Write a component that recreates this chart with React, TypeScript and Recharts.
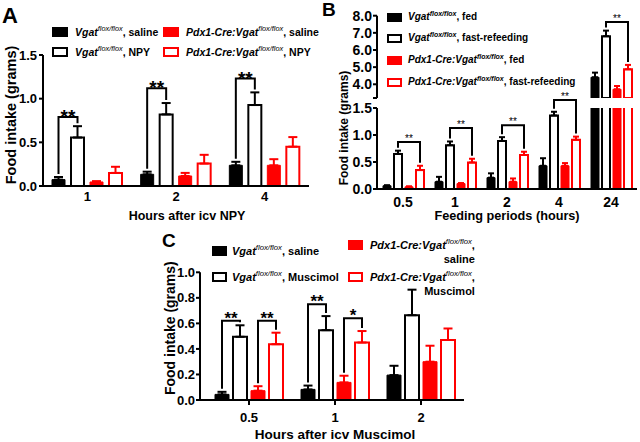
import React from 'react';
import { BarChart, Bar, XAxis, YAxis, ErrorBar, LabelList } from 'recharts';

const FONT = '"Liberation Sans", Arial, Helvetica, sans-serif';
const RED = '#ff0000';

// ---- A: food intake after icv NPY ----
const npyHours = ['1', '2', '4'];
const npyWtSaline = [0.073, 0.134, 0.237];
const npyWtSalineSem = [0.03, 0.03, 0.04];
const npyWtNpy = [0.555, 0.82, 0.927];
const npyWtNpySem = [0.13, 0.13, 0.145];
const npyKoSaline = [0.046, 0.115, 0.237];
const npyKoSalineSem = [0.01, 0.035, 0.07];
const npyKoNpy = [0.15, 0.257, 0.45];
const npyKoNpySem = [0.07, 0.1, 0.11];
const npyBracket = [0.79, 1.12, 1.23];
const npyStars = ['**', '**', '**'];
const npyTicks = [0, 0.5, 1, 1.5];

// ---- B: fed vs fast-refeeding (broken y axis) ----
const feedHours = ['0.5', '1', '2', '4', '24'];
const fedWt = [0.06, 0.135, 0.21, 0.43, 4.41];
const fedWtSem = [0.01, 0.09, 0.08, 0.14, 0.27];
const refedWt = [0.65, 0.81, 0.89, 1.36, 6.8];
const refedWtSem = [0.06, 0.07, 0.07, 0.07, 0.33];
const fedKo = [0.04, 0.1, 0.135, 0.43, 3.71];
const fedKoSem = [0.01, 0.01, 0.06, 0.05, 0.19];
const refedKo = [0.35, 0.49, 0.63, 0.91, 4.87];
const refedKoSem = [0.08, 0.07, 0.06, 0.06, 0.26];
const feedBracket = [0.87, 1.13, 1.18, 1.65, 7.63];
const feedStars = ['**', '**', '**', '**', '**'];
const feedTicksLow = [0, 0.5, 1, 1.5];
const feedTicksHigh = [3.2, 4, 5, 6, 7, 8];
const LOW_MAX = 1.5; // top of lower segment
const HIGH_MIN = 3.2; // bottom of upper segment
const HIGH_MAX = 8;

// ---- C: food intake after icv muscimol ----
const musHours = ['0.5', '1', '2'];
const musWtSaline = [0.044, 0.083, 0.195];
const musWtSalineSem = [0.02, 0.03, 0.073];
const musWtMus = [0.495, 0.547, 0.664];
const musWtMusSem = [0.09, 0.11, 0.2];
const musKoSaline = [0.073, 0.138, 0.3];
const musKoSalineSem = [0.035, 0.052, 0.125];
const musKoMus = [0.437, 0.45, 0.47];
const musKoMusSem = [0.09, 0.09, 0.09];
const musWtBracket = [0.62, 0.75, null];
const musWtStars = ['**', '**', null];
const musKoBracket = [0.62, 0.64, null];
const musKoStars = ['**', '*', null];
const musTicks = [0, 0.2, 0.4, 0.6, 0.8, 1.0];

// prism style: SEM drawn upwards only
const up = (e: number) => [0, e];

const npyRows = npyHours.map((hour, i) => ({
  hour,
  wtSal: npyWtSaline[i], wtSalErr: up(npyWtSalineSem[i]),
  wtNpy: npyWtNpy[i], wtNpyErr: up(npyWtNpySem[i]),
  koSal: npyKoSaline[i], koSalErr: up(npyKoSalineSem[i]),
  koNpy: npyKoNpy[i], koNpyErr: up(npyKoNpySem[i]),
}));

const feedLowRows = feedHours.map((hour, i) => ({
  hour,
  fedWt: fedWt[i], fedWtErr: up(fedWtSem[i]),
  refedWt: refedWt[i], refedWtErr: up(refedWtSem[i]),
  fedKo: fedKo[i], fedKoErr: up(fedKoSem[i]),
  refedKo: refedKo[i], refedKoErr: up(refedKoSem[i]),
}));

const hi = (v: number) => (v >= HIGH_MIN ? v : null);
const hiErr = (v: number, e: number) => (v >= HIGH_MIN ? up(e) : null);
const feedHighRows = feedHours.map((hour, i) => ({
  hour,
  fedWt: hi(fedWt[i]), fedWtErr: hiErr(fedWt[i], fedWtSem[i]),
  refedWt: hi(refedWt[i]), refedWtErr: hiErr(refedWt[i], refedWtSem[i]),
  fedKo: hi(fedKo[i]), fedKoErr: hiErr(fedKo[i], fedKoSem[i]),
  refedKo: hi(refedKo[i]), refedKoErr: hiErr(refedKo[i], refedKoSem[i]),
}));

const musRows = musHours.map((hour, i) => ({
  hour,
  wtSal: musWtSaline[i], wtSalErr: up(musWtSalineSem[i]),
  wtMus: musWtMus[i], wtMusErr: up(musWtMusSem[i]),
  koSal: musKoSaline[i], koSalErr: up(musKoSalineSem[i]),
  koMus: musKoMus[i], koMusErr: up(musKoMusSem[i]),
}));

const axisLine = { stroke: '#000', strokeWidth: 2 };
const tickFont = (size: number) => ({ fill: '#000', fontSize: size, fontWeight: 'bold', fontFamily: FONT });
const fmt = (v: number) => v.toFixed(1);
const fmtHigh = (v: number) => (v === HIGH_MIN ? '' : v.toFixed(1));
const axisTitle = { fill: '#000', fontWeight: 'bold', fontFamily: FONT };

type BracketOpts = {
  left: (number | null)[];
  leftErr: number[];
  right: (number | null)[];
  rightErr: number[];
  level: (number | null)[];
  stars: (string | null)[];
  span: number; // px between the two bar centres
  base: number;
  lo: number;
  hi: number;
  fontSize: number;
  starDy: number;
  starWeight?: string;
  starFill?: string;
};

// significance bracket, drawn from the left bar of the pair
const bracket = (o: BracketOpts) => (props: any) => {
  const vb = props.viewBox && typeof props.viewBox.x === 'number' ? props.viewBox : props;
  let i = props.index;
  if (typeof props.value === 'number' && o.left[i] !== props.value) {
    const j = o.left.indexOf(props.value);
    if (j >= 0) i = j;
  }
  const lev = o.level[i];
  const lv = o.left[i];
  const rv = o.right[i];
  if (lev == null || lv == null || rv == null) return null;
  if (lv < o.lo || rv < o.lo || lv > o.hi || rv > o.hi) return null;
  const { x, y, width, height } = vb;
  const k = height / (lv - o.base);
  const py = (v: number) => y + height - (v - o.base) * k;
  const lx = x + width / 2;
  const rx = lx + o.span;
  const by = py(lev);
  const ly = py(lv + o.leftErr[i]) - 3;
  const ry = py(rv + o.rightErr[i]) - 3;
  return (
    <g>
      <path d={`M${lx},${ly}V${by}H${rx}V${ry}`} fill="none" stroke="#000" strokeWidth={2} />
      <text
        x={(lx + rx) / 2}
        y={by + o.starDy}
        textAnchor="middle"
        fontSize={o.fontSize}
        fontWeight={o.starWeight ?? 'bold'}
        fontFamily={FONT}
        fill={o.starFill ?? '#000'}
      >
        {o.stars[i]}
      </text>
    </g>
  );
};

const Swatch = ({ color, open, w, h }: { color: string; open?: boolean; w: number; h: number }) => (
  <span
    style={{
      display: 'inline-block',
      width: w,
      height: h,
      boxSizing: 'border-box',
      background: open ? '#fff' : color,
      border: `2px solid ${color}`,
      flex: 'none',
    }}
  />
);

const Geno = ({ ko, size, supWeight }: { ko?: boolean; size: number; supWeight: string }) => (
  <>
    <span style={{ fontStyle: 'italic' }}>{ko ? 'Pdx1-Cre:Vgat' : 'Vgat'}</span>
    <span style={{ fontStyle: 'italic', fontWeight: supWeight as any, fontSize: size * 0.7, position: 'relative', top: -size * 0.42 }}>
      flox/flox
    </span>
  </>
);

type KeyProps = {
  left: number; top: number; color: string; open?: boolean; ko?: boolean;
  text: string; line2?: string; size: number; w: number; h: number; gap: number; supWeight?: string;
};

const Key = ({ left, top, color, open, ko, text, line2, size, w, h, gap, supWeight = 'normal' }: KeyProps) => (
  <div
    style={{
      position: 'absolute', left, top, display: 'flex', alignItems: line2 ? 'flex-start' : 'center',
      whiteSpace: 'nowrap', fontSize: size, fontWeight: 'bold', fontFamily: FONT, lineHeight: line2 ? '13px' : 1,
      color: '#000', height: line2 ? undefined : h,
    }}
  >
    <span style={{ marginTop: line2 ? 1.5 : 0, display: 'flex' }}>
      <Swatch color={color} open={open} w={w} h={h} />
    </span>
    <span style={{ marginLeft: gap, display: 'inline-block', textAlign: 'right' }}>
      <Geno ko={ko} size={size} supWeight={supWeight} />
      {text}
      {line2 ? (
        <>
          <br />
          {line2}
        </>
      ) : null}
    </span>
  </div>
);

const Letter = ({ left, top, size, children }: { left: number; top: number; size: number; children: string }) => (
  <div style={{ position: 'absolute', left, top, fontSize: size, fontWeight: 'bold', fontFamily: FONT, lineHeight: 1 }}>
    {children}
  </div>
);

const PanelA = () => (
  <div style={{ position: 'absolute', left: 0, top: 0, width: 320, height: 225, overflow: 'hidden' }}>
    <BarChart width={320} height={225} data={npyRows} margin={{ top: 55, right: 11, bottom: 0, left: 0 }} barSize={13} barGap={6}>
      <XAxis
        dataKey="hour"
        height={39}
        axisLine={axisLine}
        tickLine={false}
        tickSize={4}
        tickMargin={2}
        tick={tickFont(13)}
        label={{ value: 'Hours after icv NPY', position: 'insideBottom', offset: 5, dx: 11, fontSize: 12.5, ...axisTitle }}
      />
      <YAxis
        width={43}
        domain={[0, 1.5]}
        ticks={npyTicks}
        interval={0}
        tickFormatter={fmt}
        axisLine={axisLine}
        tickLine={axisLine}
        tickSize={4}
        tickMargin={2}
        tick={tickFont(13)}
        label={{ value: 'Food intake (grams)', angle: -90, position: 'center', dx: -10.5, dy: -5.5, fontSize: 14.5, ...axisTitle }}
      />
      <Bar dataKey="wtSal" fill="#000" stroke="#000" strokeWidth={1} isAnimationActive={false}>
        <ErrorBar dataKey="wtSalErr" width={4.5} stroke="#000" strokeWidth={2} isAnimationActive={false} />
        <LabelList
          dataKey="wtSal"
          content={bracket({
            left: npyWtSaline, leftErr: npyWtSalineSem, right: npyWtNpy, rightErr: npyWtNpySem,
            level: npyBracket, stars: npyStars, span: 19, base: 0, lo: 0, hi: 1.5, fontSize: 19, starDy: 6,
          })}
        />
      </Bar>
      <Bar dataKey="wtNpy" fill="#fff" stroke="#000" strokeWidth={2} isAnimationActive={false}>
        <ErrorBar dataKey="wtNpyErr" width={4.5} stroke="#000" strokeWidth={2} isAnimationActive={false} />
      </Bar>
      <Bar dataKey="koSal" fill={RED} stroke={RED} strokeWidth={1} isAnimationActive={false}>
        <ErrorBar dataKey="koSalErr" width={4.5} stroke={RED} strokeWidth={2} isAnimationActive={false} />
      </Bar>
      <Bar dataKey="koNpy" fill="#fff" stroke={RED} strokeWidth={2} isAnimationActive={false}>
        <ErrorBar dataKey="koNpyErr" width={4.5} stroke={RED} strokeWidth={2} isAnimationActive={false} />
      </Bar>
    </BarChart>
    <Letter left={2} top={5} size={22}>A</Letter>
    <Key left={52} top={27} color="#000" text=", saline" size={10.5} w={16} h={10} gap={7} />
    <Key left={52} top={47} color="#000" open text=", NPY" size={10.5} w={16} h={10} gap={7} />
    <Key left={163} top={27} color={RED} ko text=", saline" size={10.5} w={16} h={10} gap={7} />
    <Key left={163} top={47} color={RED} open ko text=", NPY" size={10.5} w={16} h={10} gap={7} />
  </div>
);

const feedBars = (lo: number, hiV: number, base: number) => [
  <Bar key="fw" dataKey="fedWt" fill="#000" stroke="#000" strokeWidth={1} isAnimationActive={false}>
    <ErrorBar dataKey="fedWtErr" width={3} stroke="#000" strokeWidth={2} isAnimationActive={false} />
  </Bar>,
  <Bar key="rw" dataKey="refedWt" fill="#fff" stroke="#000" strokeWidth={2} isAnimationActive={false}>
    <ErrorBar dataKey="refedWtErr" width={3} stroke="#000" strokeWidth={2} isAnimationActive={false} />
    <LabelList
      dataKey="refedWt"
      content={bracket({
        left: refedWt, leftErr: refedWtSem, right: refedKo, rightErr: refedKoSem,
        level: feedBracket, stars: feedStars, span: 22, base, lo, hi: hiV, fontSize: 10, starDy: 0,
        starWeight: 'normal', starFill: '#000',
      })}
    />
  </Bar>,
  <Bar key="fk" dataKey="fedKo" fill={RED} stroke={RED} strokeWidth={1} isAnimationActive={false}>
    <ErrorBar dataKey="fedKoErr" width={3} stroke={RED} strokeWidth={2} isAnimationActive={false} />
  </Bar>,
  <Bar key="rk" dataKey="refedKo" fill="#fff" stroke={RED} strokeWidth={2} isAnimationActive={false}>
    <ErrorBar dataKey="refedKoErr" width={3} stroke={RED} strokeWidth={2} isAnimationActive={false} />
  </Bar>,
];

const PanelB = () => (
  <div style={{ position: 'absolute', left: 320, top: 0, width: 320, height: 225, overflow: 'hidden' }}>
    {/* lower segment 0 - 1.5 */}
    <div style={{ position: 'absolute', left: 0, top: 0 }}>
      <BarChart width={320} height={225} data={feedLowRows} margin={{ top: 108, right: 3, bottom: 0, left: 0 }} barSize={8} barGap={3}>
        <XAxis
          dataKey="hour"
          height={36}
          axisLine={axisLine}
          tickLine={false}
          tick={tickFont(14)}
          label={{ value: 'Feeding periods (hours)', position: 'insideBottom', offset: 5, fontSize: 12.7, ...axisTitle }}
        />
        <YAxis
          width={57}
          domain={[0, LOW_MAX]}
          allowDataOverflow
          ticks={feedTicksLow}
          interval={0}
          tickFormatter={fmt}
          axisLine={axisLine}
          tickLine={axisLine}
          tickSize={4}
          tickMargin={1}
          tick={tickFont(14)}
          label={{ value: 'Food intake (grams)', angle: -90, position: 'center', dx: -5, dy: -20.5, fontSize: 12, ...axisTitle }}
        />
        {feedBars(0, LOW_MAX, 0)}
      </BarChart>
    </div>
    {/* upper segment 3.2 - 8 */}
    <div style={{ position: 'absolute', left: 0, top: 0 }}>
      <BarChart width={320} height={225} data={feedHighRows} margin={{ top: 15.7, right: 3, bottom: 127, left: 0 }} barSize={8} barGap={3}>
        <XAxis dataKey="hour" hide />
        <YAxis
          width={57}
          domain={[HIGH_MIN, HIGH_MAX]}
          allowDataOverflow
          ticks={feedTicksHigh}
          interval={0}
          tickFormatter={fmtHigh}
          axisLine={axisLine}
          tickLine={axisLine}
          tickSize={4}
          tickMargin={1}
          tick={tickFont(14)}
        />
        {feedBars(HIGH_MIN, HIGH_MAX, HIGH_MIN)}
      </BarChart>
    </div>
    <Letter left={2} top={0} size={19}>B</Letter>
    <Key left={67} top={12.5} color="#000" text=", fed" size={10} w={15} h={9} gap={6} supWeight="bold" />
    <Key left={67} top={33.5} color="#000" open text=", fast-refeeding" size={10} w={15} h={9} gap={6} supWeight="bold" />
    <Key left={67} top={55.5} color={RED} ko text=", fed" size={10} w={15} h={9} gap={6} supWeight="bold" />
    <Key left={67} top={77.5} color={RED} open ko text=", fast-refeeding" size={10} w={15} h={9} gap={6} supWeight="bold" />
  </div>
);

const PanelC = () => (
  <div style={{ position: 'absolute', left: 150, top: 225, width: 340, height: 217, overflow: 'hidden' }}>
    <BarChart width={340} height={217} data={musRows} margin={{ top: 47.3, right: 26, bottom: 0, left: 0 }} barSize={14} barGap={4}>
      <XAxis
        dataKey="hour"
        height={42}
        padding={{ left: 6, right: 0 }}
        axisLine={axisLine}
        tickLine={axisLine}
        tickSize={5}
        tickMargin={8}
        tick={tickFont(13)}
        label={{ value: 'Hours after icv Muscimol', position: 'insideBottom', offset: 3, dx: 3, fontSize: 13.5, ...axisTitle }}
      />
      <YAxis
        width={50}
        domain={[0, 1]}
        ticks={musTicks}
        interval={0}
        tickFormatter={fmt}
        axisLine={axisLine}
        tickLine={axisLine}
        tickSize={4}
        tickMargin={1}
        tick={tickFont(13)}
        label={{ value: 'Food intake (grams)', angle: -90, position: 'center', dx: -5, dy: -8, fontSize: 14, ...axisTitle }}
      />
      <Bar dataKey="wtSal" fill="#000" stroke="#000" strokeWidth={1} isAnimationActive={false}>
        <ErrorBar dataKey="wtSalErr" width={4.5} stroke="#000" strokeWidth={2} isAnimationActive={false} />
        <LabelList
          dataKey="wtSal"
          content={bracket({
            left: musWtSaline, leftErr: musWtSalineSem, right: musWtMus, rightErr: musWtMusSem,
            level: musWtBracket, stars: musWtStars, span: 18, base: 0, lo: 0, hi: 1, fontSize: 17, starDy: 3,
          })}
        />
      </Bar>
      <Bar dataKey="wtMus" fill="#fff" stroke="#000" strokeWidth={2} isAnimationActive={false}>
        <ErrorBar dataKey="wtMusErr" width={4.5} stroke="#000" strokeWidth={2} isAnimationActive={false} />
      </Bar>
      <Bar dataKey="koSal" fill={RED} stroke={RED} strokeWidth={1} isAnimationActive={false}>
        <ErrorBar dataKey="koSalErr" width={4.5} stroke={RED} strokeWidth={2} isAnimationActive={false} />
        <LabelList
          dataKey="koSal"
          content={bracket({
            left: musKoSaline, leftErr: musKoSalineSem, right: musKoMus, rightErr: musKoMusSem,
            level: musKoBracket, stars: musKoStars, span: 18, base: 0, lo: 0, hi: 1, fontSize: 17, starDy: 3,
          })}
        />
      </Bar>
      <Bar dataKey="koMus" fill="#fff" stroke={RED} strokeWidth={2} isAnimationActive={false}>
        <ErrorBar dataKey="koMusErr" width={4.5} stroke={RED} strokeWidth={2} isAnimationActive={false} />
      </Bar>
    </BarChart>
    <Letter left={12} top={6} size={19}>C</Letter>
    <Key left={62} top={21} color="#000" text=", saline" size={11} w={15} h={10} gap={5} />
    <Key left={62} top={47} color="#000" open text=", Muscimol" size={11} w={15} h={10} gap={5} />
    <Key left={198} top={13.5} color={RED} ko text="," line2="saline" size={11} w={15} h={10} gap={7} />
    <Key left={198} top={45.5} color={RED} open ko text="," line2="Muscimol" size={11} w={15} h={10} gap={7} />
  </div>
);

export default function App() {
  return (
    <div style={{ position: 'absolute', left: 0, top: 0, width: 640, height: 442, background: '#fff', overflow: 'hidden' }}>
      <PanelA />
      <PanelB />
      <PanelC />
    </div>
  );
}
